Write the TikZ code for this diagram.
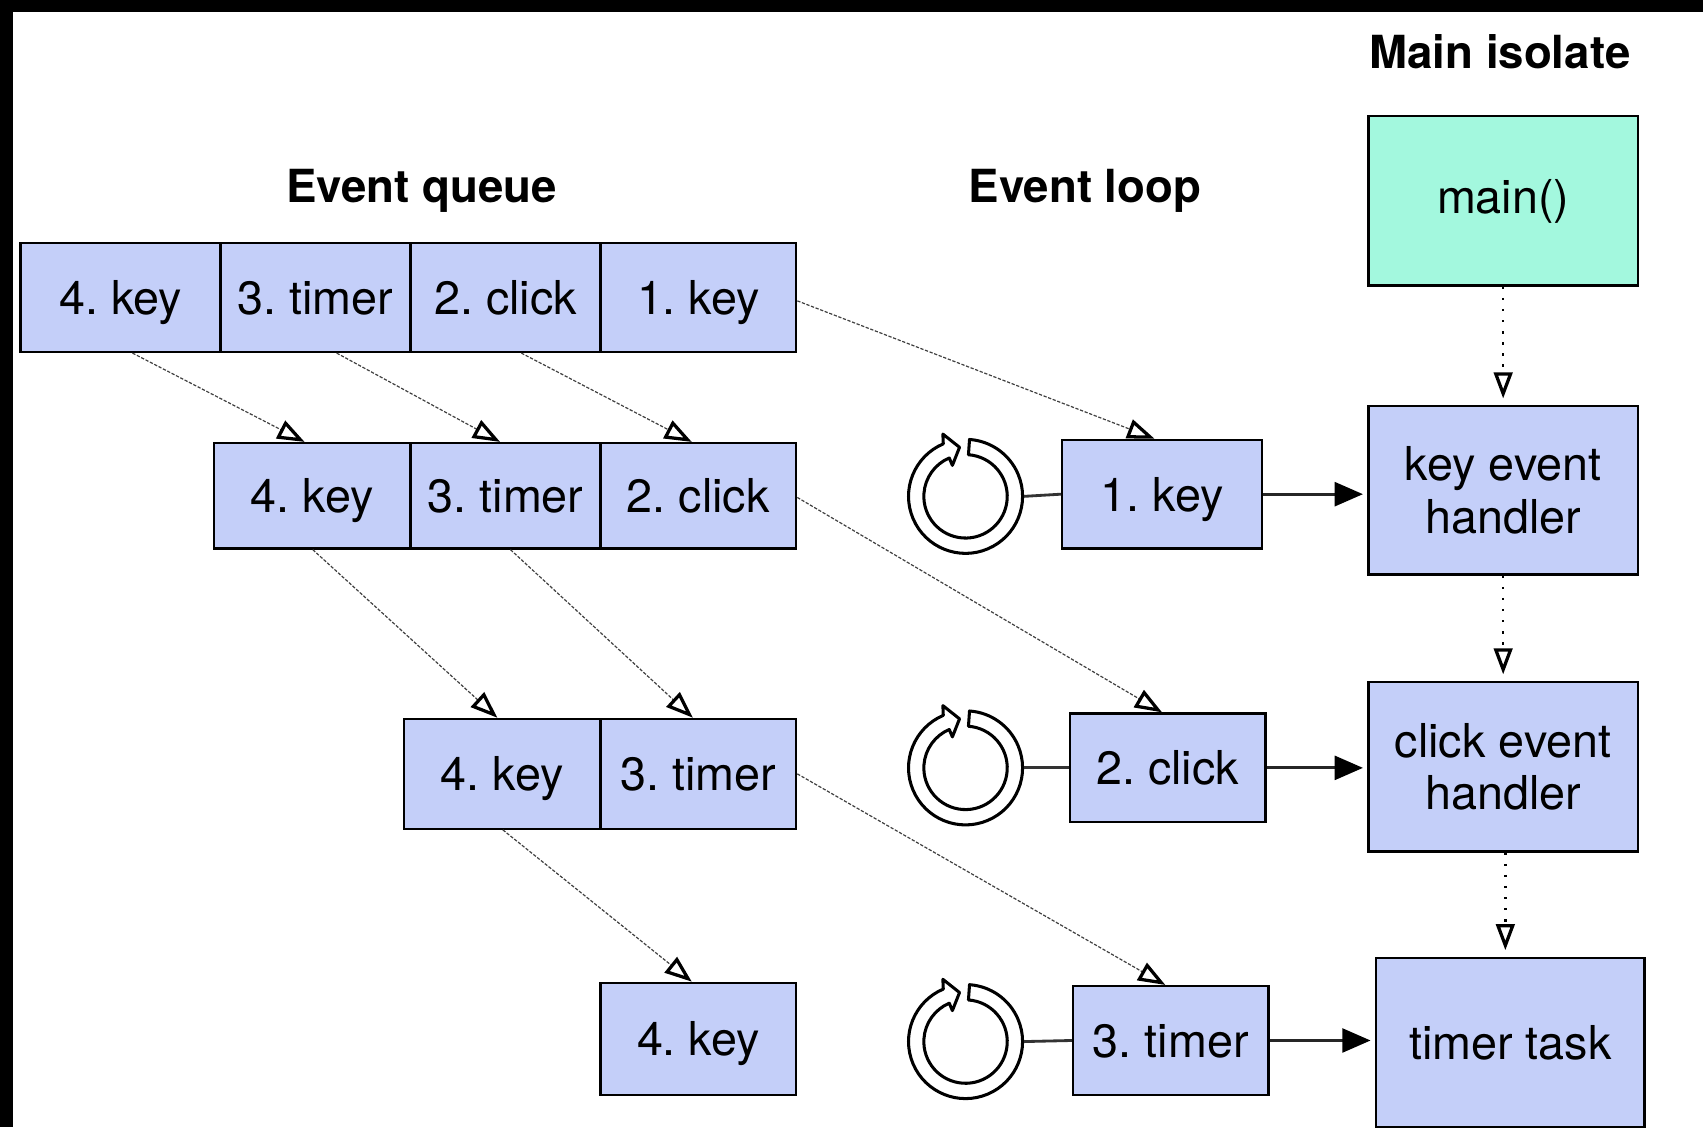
\documentclass[tikz,border=0pt]{standalone}
\usepackage{fontspec}
\setmainfont{TeX Gyre Heros}
\usetikzlibrary{arrows.meta}
\definecolor{cellblue}{RGB}{196,207,249}
\definecolor{mintg}{RGB}{163,248,222}
\frenchspacing
\begin{document}
\begin{tikzpicture}[x=1pt, y=-1pt,
  cellbox/.style={draw=black, line width=2.2pt, fill=cellblue, inner sep=0pt, font=\fontsize{43}{48}\selectfont, text height=31pt, text depth=0pt},
  handbox/.style={draw=black, line width=2.2pt, fill=cellblue, inner sep=0pt, font=\fontsize{43}{48}\selectfont, align=center},
  titletext/.style={font=\bfseries\fontsize{42}{48}\selectfont, text height=30pt, text depth=0pt, inner sep=0pt},
  flow/.style={line width=1.1pt, draw=black!75, dash pattern=on 3pt off 1.5pt, -{Triangle[color=black, fill=white, length=25pt, width=18pt, line width=3pt]}},
  seq/.style={line width=2.2pt, dash pattern=on 2.2pt off 8pt, -{Triangle[color=black, fill=white, length=24pt, width=17pt, line width=3pt]}, shorten >=6pt},
  call/.style={line width=2.6pt, draw=black!85, -{Triangle[length=26pt, width=22pt, color=black]}, shorten >=4pt},
  link/.style={line width=2.6pt, draw=black!80},
  loopnode/.style={circle, minimum size=107.4pt, inner sep=0pt},
  ring/.style={draw=black, fill=white, line width=2.8pt, line join=round}
]
\useasboundingbox (0,0) rectangle (1568,1038);
\clip (0,0) rectangle (1568,1038);
\fill[black] (0,0) rectangle (1568,1038);
\fill[white] (12,11) rectangle (1568,1040);

% titles
\node[titletext] (tq) at (388,171) {Event queue};
\node[titletext] (tl) at (999,171) {Event loop};
\node[titletext] (tm) at (1381,48) {Main isolate};

% queue rows
\node[cellbox, minimum width=184pt, minimum height=100pt] (qa1) at (111,274) {4. key};
\node[cellbox, minimum width=175pt, minimum height=100pt] (qa2) at (290.5,274) {3. timer};
\node[cellbox, minimum width=175pt, minimum height=100pt] (qa3) at (465.5,274) {2. click};
\node[cellbox, minimum width=180pt, minimum height=100pt] (qa4) at (643,274) {1. key};

\node[cellbox, minimum width=181pt, minimum height=97pt] (qb1) at (287.5,456.5) {4. key};
\node[cellbox, minimum width=175pt, minimum height=97pt] (qb2) at (465.5,456.5) {3. timer};
\node[cellbox, minimum width=180pt, minimum height=97pt] (qb3) at (643,456.5) {2. click};

\node[cellbox, minimum width=181pt, minimum height=101pt] (qc1) at (462.5,712.5) {4. key};
\node[cellbox, minimum width=180pt, minimum height=101pt] (qc2) at (643,712.5) {3. timer};

\node[cellbox, minimum width=180pt, minimum height=103pt] (qd1) at (643,956.5) {4. key};

% event loop
\node[cellbox, minimum width=184pt, minimum height=100pt] (ev1) at (1070,455) {1. key};
\node[cellbox, minimum width=180pt, minimum height=100pt] (ev2) at (1075,707) {2. click};
\node[cellbox, minimum width=180pt, minimum height=100pt] (ev3) at (1078,958) {3. timer};

% handlers
\node[handbox, fill=mintg, minimum width=248pt, minimum height=156pt] (hmain) at (1384,185) {main()};
\node[handbox, minimum width=248pt, minimum height=155pt] (hkey) at (1384,451.5) {key event\\handler};
\node[handbox, minimum width=248pt, minimum height=156pt] (hclick) at (1384,706) {click event\\handler};
\node[handbox, minimum width=247pt, minimum height=156pt] (htimer) at (1390.5,960) {timer task};

% loop icons
\foreach \i/\yy in {1/457,2/707,3/959}{
  \node[loopnode] (loop\i) at (889,\yy) {};
  \draw[ring, shift={(889,\yy)}] (-113:52.5) arc[start angle=-113, end angle=-446, radius=52.5]
     -- (-446:38.4) arc[start angle=-446, end angle=-113, radius=38.4]
     -- (-113:31) -- (-97:45.5) -- (-110:61) -- cycle;
}
\draw[link] (loop1.east) -- (ev1.west);
\draw[link] (loop2.east) -- (ev2.west);
\draw[link] (loop3.east) -- (ev3.west);

% calls
\draw[call] (ev1.east) -- (ev1.east -| hkey.west);
\draw[call] (ev2.east) -- (ev2.east -| hclick.west);
\draw[call] (ev3.east) -- (ev3.east -| htimer.west);

% sequence in main isolate
\draw[seq] (hmain.south) -- (hkey.north);
\draw[seq] (hkey.south) -- (hclick.north);
\draw[seq] ([xshift=2pt]hclick.south) -- ([xshift=-4.5pt]htimer.north);

% queue flow
\draw[flow] ([xshift=11pt]qa1.south) -- ([xshift=-7pt]qb1.north);
\draw[flow] ([xshift=19.5pt]qa2.south) -- ([xshift=-5pt]qb2.north);
\draw[flow] ([xshift=14.5pt]qa3.south) -- ([xshift=-6pt]qb3.north);
\draw[flow] ([yshift=-3pt]qa4.east) -- ([xshift=-7pt]ev1.north);

\draw[flow] ([xshift=0.5pt]qb1.south) -- ([xshift=-4.5pt]qc1.north);
\draw[flow] ([xshift=4.5pt]qb2.south) -- ([xshift=-5pt]qc2.north);
\draw[flow] ([yshift=-1.5pt]qb3.east) -- ([xshift=-5pt]ev2.north);

\draw[flow] ([xshift=0.5pt]qc1.south) -- ([xshift=-6pt]qd1.north);
\draw[flow] (qc2.east) -- ([xshift=-5pt]ev3.north);
\end{tikzpicture}
\end{document}
